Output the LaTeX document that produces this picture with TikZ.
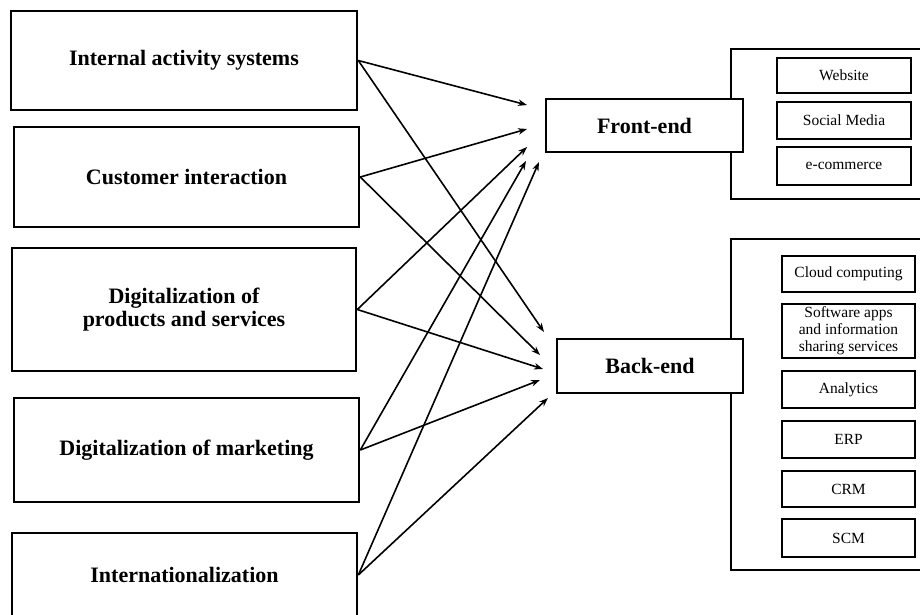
\documentclass[tikz,border=0pt]{standalone}
\usepackage{fontspec}
\setmainfont{Liberation Serif}
\usetikzlibrary{arrows.meta}
\begin{document}
\begin{tikzpicture}[x=1pt,y=-1pt,
  bigbox/.style={draw, line width=2.6pt, fill=white, inner sep=0pt, align=center,
    font=\fontsize{22}{23}\selectfont\bfseries},
  endbox/.style={draw, line width=2.6pt, fill=white, inner sep=0pt, align=center,
    font=\fontsize{22}{23}\selectfont\bfseries},
  itembox/.style={draw, line width=2.6pt, fill=white, inner sep=0pt, align=center,
    minimum width=134pt, font=\fontsize{15.5}{17}\selectfont},
  group/.style={draw, line width=2.2pt},
  conn/.style={line width=1.6pt, -{Stealth[length=9pt,width=6.5pt]}}]
\useasboundingbox (0,0) rectangle (920,614);
\clip (0,0) rectangle (920,614);
% group frames
\draw[group] (930,49) -- (731,49) -- (731,199) -- (930,199);
\draw[group] (930,239) -- (731,239) -- (731,570) -- (930,570);
% left boxes
\node[bigbox, minimum width=346pt, minimum height=99pt] (L1) at (184,60.5) {Internal activity systems};
\node[bigbox, minimum width=345pt, minimum height=100pt] (L2) at (186.5,177) {Customer interaction};
\node[bigbox, minimum width=344pt, minimum height=123pt] (L3) at (184,309.5) {Digitalization of\\products and services};
\node[bigbox, minimum width=345pt, minimum height=104pt] (L4) at (186.5,450) {Digitalization of marketing};
\node[bigbox, minimum width=345pt, minimum height=84pt] (L5) at (184.5,575) {Internationalization};
% end boxes
\node[endbox, minimum width=197pt, minimum height=53pt] (FE) at (644.5,125.5) {Front-end};
\node[endbox, minimum width=186pt, minimum height=54pt] (BE) at (650,366) {Back-end};
% front items
\node[itembox, minimum height=35pt] (web) at (844,75.5) {Website};
\node[itembox, minimum height=37pt] (soc) at (844,120.5) {Social Media};
\node[itembox, minimum height=38pt] (ecom) at (844,166) {e-commerce};
% back items
\node[itembox, minimum width=133pt, minimum height=36pt] (cloud) at (848.5,274) {Cloud computing};
\node[itembox, minimum width=133pt, minimum height=54pt] (soft) at (848.5,331) {Software apps\\and information\\sharing services};
\node[itembox, minimum width=133pt, minimum height=37pt] (ana) at (848.5,389.5) {Analytics};
\node[itembox, minimum width=133pt, minimum height=37pt] (erp) at (848.5,439.5) {ERP};
\node[itembox, minimum width=133pt, minimum height=36pt] (crm) at (848.5,489) {CRM};
\node[itembox, minimum width=133pt, minimum height=38pt] (scm) at (848.5,538) {SCM};
% arrow targets
\coordinate (f1) at (527,105);
\coordinate (f2) at (527,129);
\coordinate (f3) at (527,147);
\coordinate (f4) at (526,161);
\coordinate (f5) at (539,162);
\coordinate (b1) at (544,332);
\coordinate (b2) at (540,355);
\coordinate (b3) at (543,369);
\coordinate (b4) at (540,380);
\coordinate (b5) at (548,398);
% connectors
\draw[conn] (L1.east) -- (f1);
\draw[conn] (L2.east) -- (f2);
\draw[conn] (L3.east) -- (f3);
\draw[conn] (L4.east) -- (f4);
\draw[conn] (L5.east) -- (f5);
\draw[conn] (L1.east) -- (b1);
\draw[conn] (L2.east) -- (b2);
\draw[conn] (L3.east) -- (b3);
\draw[conn] (L4.east) -- (b4);
\draw[conn] (L5.east) -- (b5);
\end{tikzpicture}
\end{document}
